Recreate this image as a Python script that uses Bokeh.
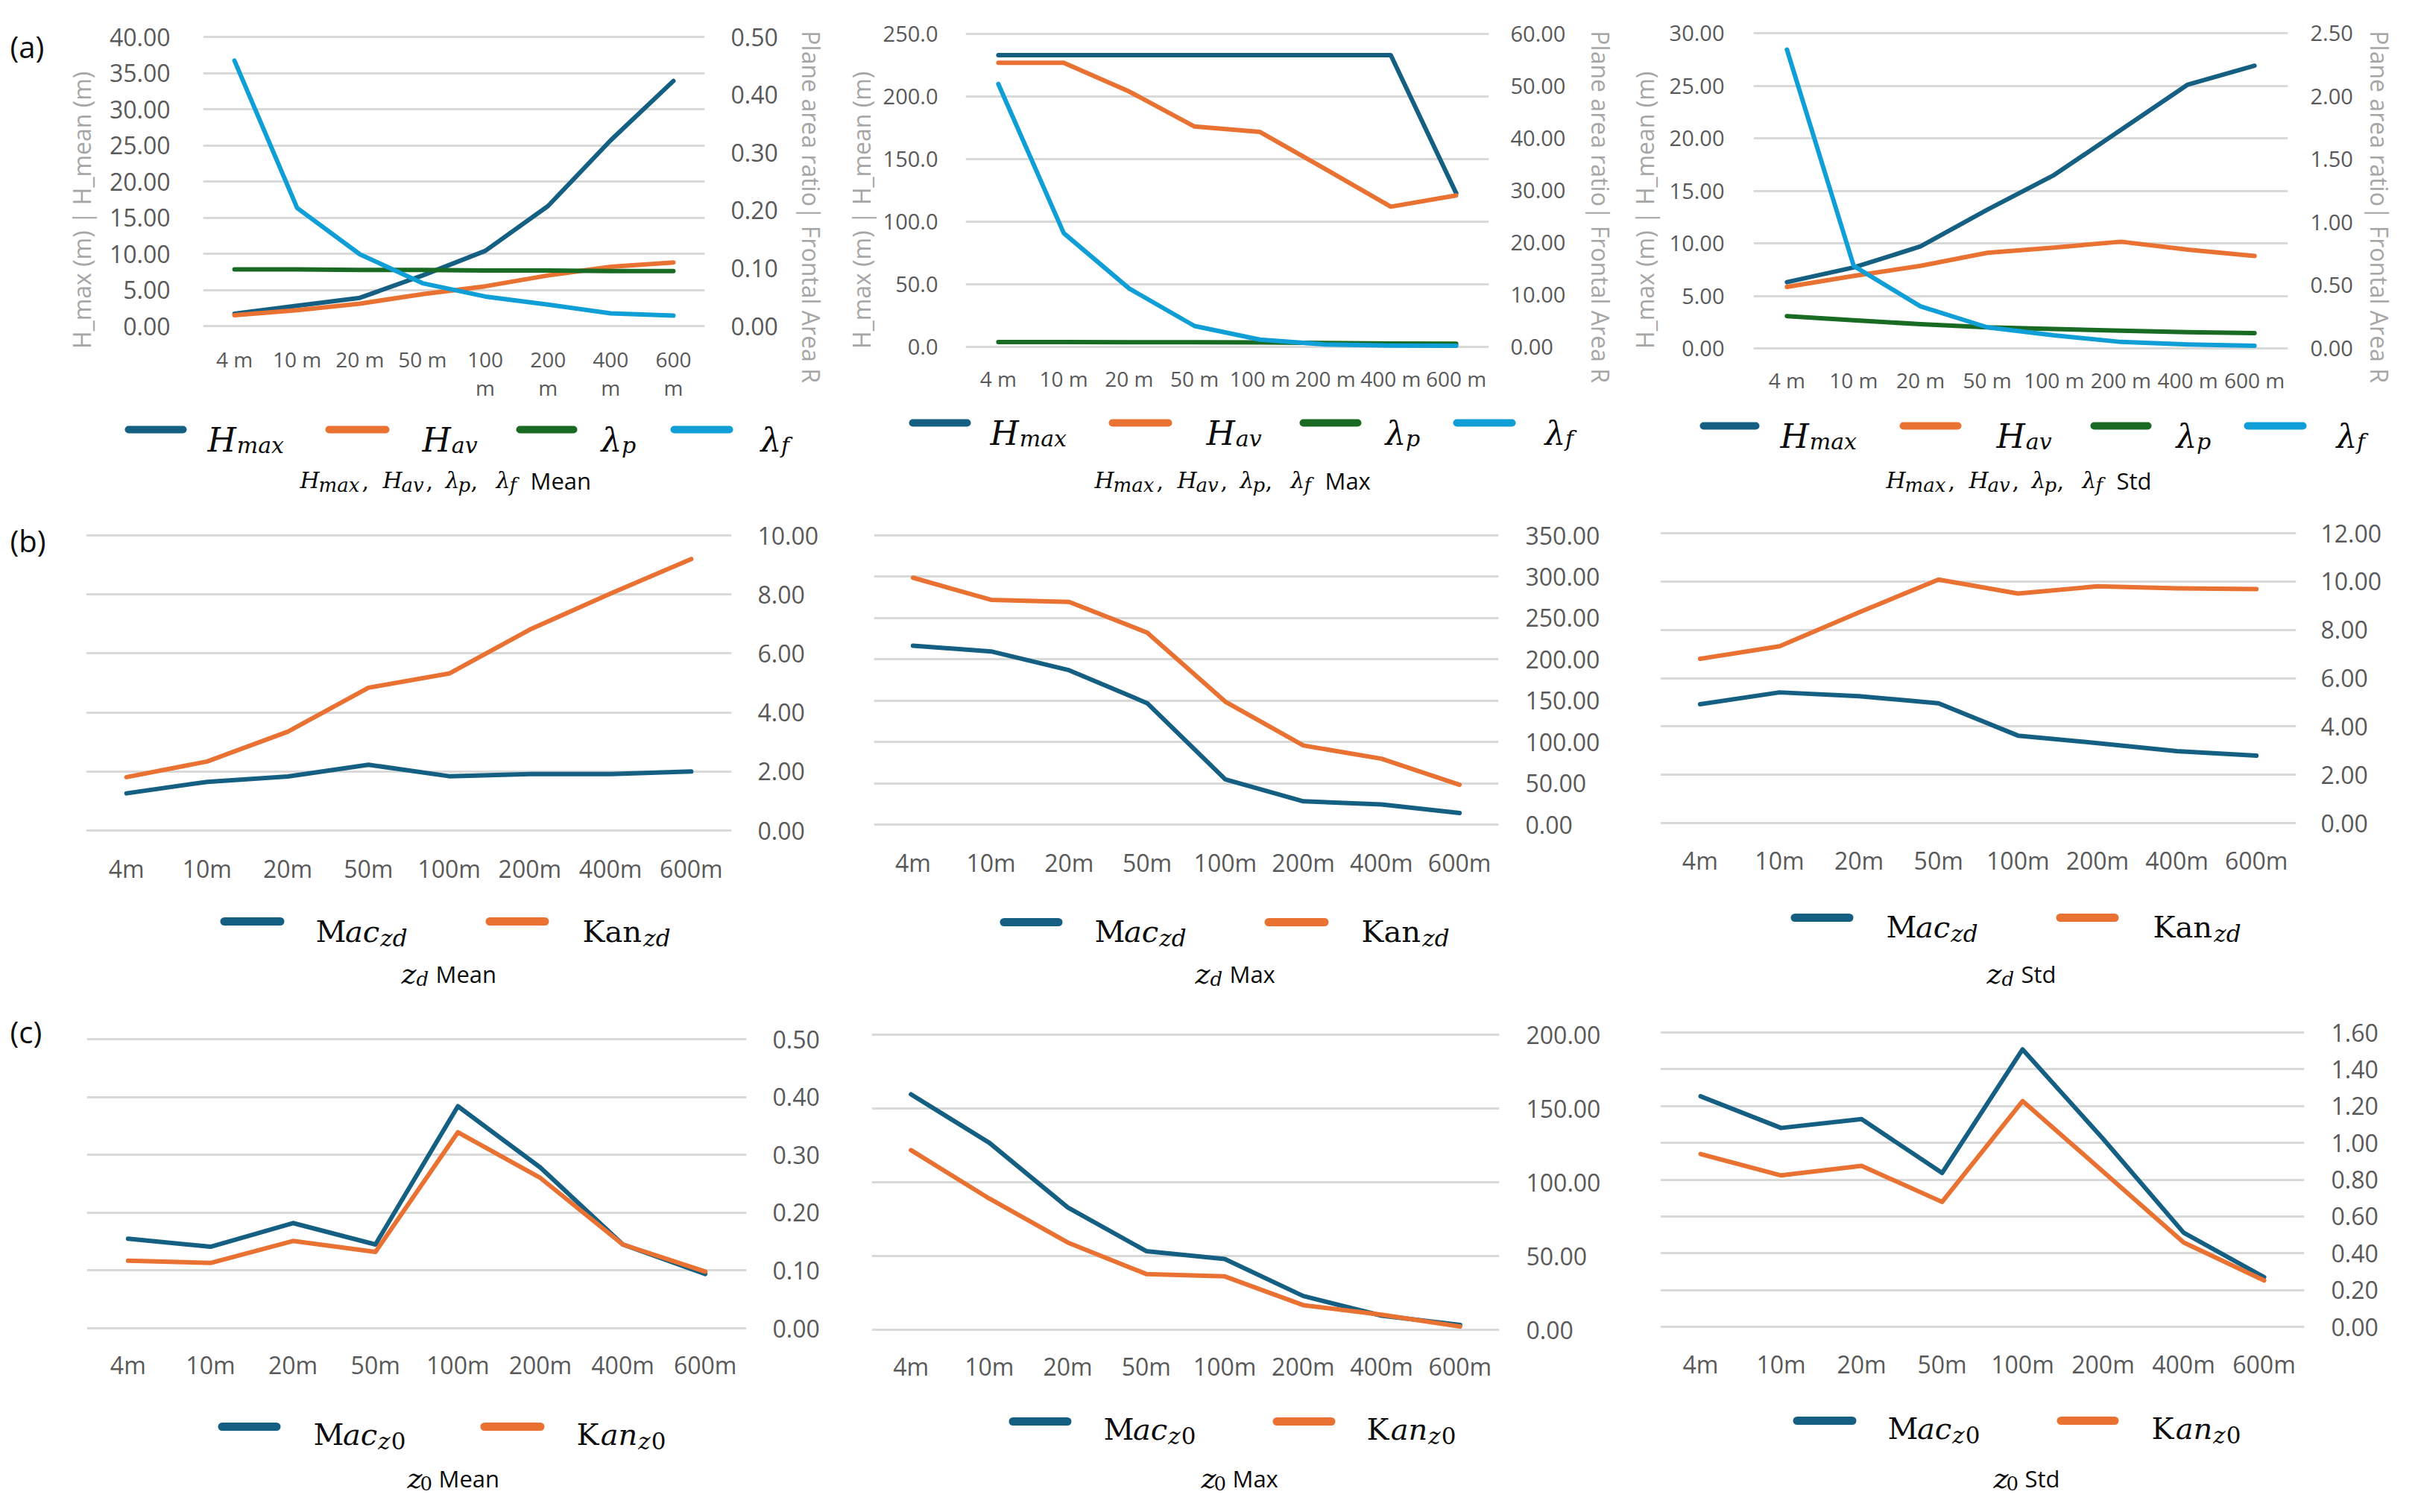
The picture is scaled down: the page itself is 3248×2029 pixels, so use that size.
import math
from bokeh.plotting import figure
from bokeh.models import FactorRange, Range1d, LinearAxis, FixedTicker, NumeralTickFormatter
from bokeh.layouts import column, row
from bokeh.embed import file_html
from bokeh.resources import INLINE
from bokeh.core.properties import value

# ---------------- data ----------------
CATS_A1 = ["4 m", "10 m", "20 m", "50 m", "100\nm", "200\nm", "400\nm", "600\nm"]
CATS_A = ["4 m", "10 m", "20 m", "50 m", "100 m", "200 m", "400 m", "600 m"]
CATS_BC = ["4m", "10m", "20m", "50m", "100m", "200m", "400m", "600m"]

# (a) Mean
a_mean_hmax = [1.7, 2.8, 3.9, 7.0, 10.4, 16.6, 25.7, 33.9]
a_mean_hav = [1.5, 2.2, 3.1, 4.4, 5.5, 7.0, 8.2, 8.8]
a_mean_lp = [0.098, 0.098, 0.097, 0.097, 0.096, 0.096, 0.095, 0.095]
a_mean_lf = [0.459, 0.204, 0.124, 0.074, 0.051, 0.037, 0.022, 0.018]
# (a) Max
a_max_hmax = [233.0, 233.0, 233.0, 233.0, 233.0, 233.0, 233.0, 122.7]
a_max_hav = [227.0, 227.0, 204.0, 176.0, 171.7, 142.0, 112.0, 121.0]
a_max_lp = [0.93, 0.92, 0.90, 0.88, 0.85, 0.75, 0.65, 0.62]
a_max_lf = [50.4, 21.8, 11.2, 4.0, 1.4, 0.45, 0.25, 0.2]
# (a) Std
a_std_hmax = [6.3, 7.7, 9.7, 13.2, 16.5, 20.8, 25.1, 26.9]
a_std_hav = [5.85, 6.9, 7.85, 9.1, 9.6, 10.15, 9.4, 8.8]
a_std_lp = [0.256, 0.223, 0.192, 0.167, 0.154, 0.141, 0.128, 0.121]
a_std_lf = [2.37, 0.654, 0.333, 0.167, 0.103, 0.051, 0.031, 0.021]

# (b) zero-plane displacement zd
b_mean_mac = [1.26, 1.65, 1.83, 2.23, 1.84, 1.91, 1.91, 2.0]
b_mean_kan = [1.81, 2.34, 3.35, 4.84, 5.32, 6.81, 8.03, 9.2]
b_max_mac = [216.4, 209.6, 186.8, 146.9, 54.7, 28.1, 24.3, 14.0]
b_max_kan = [298.8, 272.0, 269.5, 232.3, 148.8, 95.7, 79.7, 48.2]
b_std_mac = [4.92, 5.41, 5.25, 4.96, 3.62, 3.31, 2.98, 2.79]
b_std_kan = [6.80, 7.32, 8.72, 10.08, 9.50, 9.80, 9.72, 9.69]

# (c) roughness length z0
c_mean_mac = [0.155, 0.141, 0.182, 0.145, 0.384, 0.278, 0.145, 0.094]
c_mean_kan = [0.117, 0.113, 0.151, 0.132, 0.339, 0.260, 0.145, 0.098]
c_max_mac = [159.6, 126.7, 82.9, 53.3, 48.0, 22.9, 9.6, 3.3]
c_max_kan = [121.8, 88.9, 59.1, 37.8, 36.2, 16.7, 10.2, 2.2]
c_std_mac = [1.253, 1.081, 1.129, 0.836, 1.508, 1.022, 0.512, 0.270]
c_std_kan = [0.939, 0.823, 0.875, 0.679, 1.227, 0.844, 0.459, 0.252]

# axis ticks
A_MEAN_L = [0, 5, 10, 15, 20, 25, 30, 35, 40]
A_MEAN_R = [0, 0.1, 0.2, 0.3, 0.4, 0.5]
A_MAX_L = [0, 50, 100, 150, 200, 250]
A_MAX_R = [0, 10, 20, 30, 40, 50, 60]
A_STD_L = [0, 5, 10, 15, 20, 25, 30]
A_STD_R = [0, 0.5, 1.0, 1.5, 2.0, 2.5]
B_MEAN_T = [0, 2, 4, 6, 8, 10]
B_MAX_T = [0, 50, 100, 150, 200, 250, 300, 350]
B_STD_T = [0, 2, 4, 6, 8, 10, 12]
C_MEAN_T = [0, 0.1, 0.2, 0.3, 0.4, 0.5]
C_MAX_T = [0, 50, 100, 150, 200]
C_STD_T = [0, 0.2, 0.4, 0.6, 0.8, 1.0, 1.2, 1.4, 1.6]

LEFT_TITLE = "H_max (m) | H_mean (m)"
RIGHT_TITLE = "Plane area ratio| Frontal Area R"

# ---------------- styles ----------------
C_DARK = "#156082"
C_ORANGE = "#E97132"
C_GREEN = "#196B24"
C_LIGHT = "#0F9ED5"
SANS = "Open Sans"
SERIF = "DejaVu Serif"
TICK_COLOR = "#595959"
AXT_COLOR = "#a6a6a6"
GRID_COLOR = "#d9d9d9"
INK = "#0d0d0d"
NB = "\u00a0"

W_IT = {"H": .87, "m": .95, "a": .60, "x": .58, "v": .57, "p": .64, "f": .35,
        "c": .56, "n": .64, "z": .53, "d": .64, "λ": .60, ",": .32}
W_RG = {"M": .96, "K": .78, "a": .60, "n": .64, "c": .56, "0": .64, ",": .32}


class Pan:
    """pixel <-> data mapping for a figure whose frame spans the whole figure height"""
    def __init__(self, fx, fw, top, h, L, R, T0, Z, ymax, ncat):
        self.fx, self.fw, self.top, self.h = fx, fw, top, h
        self.L, self.R, self.T0, self.Z, self.ymax, self.ncat = L, R, T0, Z, ymax, ncat
        self.k = (Z - T0) / ymax
        self.y0 = -(top + h - Z) / self.k
        self.y1 = ymax + (T0 - top) / self.k

    def X(self, px):
        return (px - self.L) / (self.R - self.L) * self.ncat

    def Y(self, py):
        return self.ymax - (py - self.T0) / self.k


class Ident:
    def X(self, px):
        return px

    def Y(self, py):
        return py


def style_axis(ax, px, standoff):
    ax.axis_line_color = None
    ax.major_tick_line_color = None
    ax.minor_tick_line_color = None
    ax.major_tick_out = 0
    ax.major_tick_in = 0
    ax.minor_tick_out = 0
    ax.minor_tick_in = 0
    ax.major_label_text_color = TICK_COLOR
    ax.major_label_text_font = SANS
    ax.major_label_text_font_size = f"{px}px"
    ax.major_label_standoff = standoff


def axis_title(ax, text, standoff):
    ax.axis_label = text
    ax.axis_label_text_font = SANS
    ax.axis_label_text_font_size = "32px"
    ax.axis_label_text_font_style = "normal"
    ax.axis_label_text_color = AXT_COLOR
    ax.axis_label_standoff = standoff


def new_fig(pan, cats, yticks, yloc, ypx, ystand, xpx, xstand):
    p = figure(width=pan.fw, height=pan.h, x_range=FactorRange(factors=cats),
               y_range=Range1d(pan.y0, pan.y1), y_axis_location=yloc,
               output_backend="svg", toolbar_location=None, tools="",
               min_border=0, min_border_top=0, min_border_bottom=0,
               min_border_left=pan.L - pan.fx, min_border_right=pan.fx + pan.fw - pan.R)
    p.outline_line_color = None
    p.border_fill_color = "white"
    p.background_fill_color = "white"
    p.xgrid.grid_line_color = None
    tk = FixedTicker(ticks=yticks)
    p.yaxis[0].ticker = tk
    p.ygrid.ticker = tk
    p.ygrid.grid_line_color = GRID_COLOR
    p.ygrid.grid_line_width = 3
    p.yaxis[0].formatter = NumeralTickFormatter(format="0.00")
    style_axis(p.yaxis[0], ypx, ystand)
    style_axis(p.xaxis[0], xpx, xstand)
    p.xaxis[0].fixed_location = 0
    return p


def add_right(p, pan, rmax, ticks, px, standoff):
    f = rmax / pan.ymax
    p.extra_y_ranges = {"r": Range1d(pan.y0 * f, pan.y1 * f)}
    ax = LinearAxis(y_range_name="r", ticker=FixedTicker(ticks=ticks),
                    formatter=NumeralTickFormatter(format="0.00"))
    style_axis(ax, px, standoff)
    p.add_layout(ax, "right")
    return ax


def line(p, cats, vals, color, rng=None):
    kw = dict(line_width=6, line_color=color, line_join="round", line_cap="round")
    if rng:
        kw["y_range_name"] = rng
    p.line(x=cats, y=vals, **kw)


def txt(p, pan, X, Y, s, font=SANS, size=30, style="normal", color=INK,
        align="left", baseline="alphabetic"):
    p.text(x=[pan.X(X)], y=[pan.Y(Y)], text=[s], text_font=value(font),
           text_font_size=value(f"{size}px"), text_font_style=value(style),
           text_color=value(color), text_align=value(align),
           text_baseline=value(baseline))


def swatch(p, pan, x0, x1, yc, color, th):
    p.segment(x0=[pan.X(x0 + th / 2)], y0=[pan.Y(yc)], x1=[pan.X(x1 - th / 2)],
              y1=[pan.Y(yc)], line_width=th, line_color=color, line_cap="round")


def segs(p, pan, X, Yb, parts):
    x = X
    for s, style, size, dy in parts:
        txt(p, pan, x, Yb + dy, s, font=SERIF, size=size, style=style)
        tab = W_IT if style == "italic" else W_RG
        x += sum(tab.get(ch, .6) for ch in s) * size + 1


def legend_a(p, pan, items, yc, yb):
    names = [("H", "max", C_DARK), ("H", "av", C_ORANGE), ("λ", "p", C_GREEN), ("λ", "f", C_LIGHT)]
    for (x0, x1, tx), (m, s, c) in zip(items, names):
        swatch(p, pan, x0, x1, yc, c, 10)
        segs(p, pan, tx, yb, [(m, "italic", 44, 0), (s, "italic", 30, 7)])


def legend_bc(p, pan, items, yc, yb, sub):
    (mx0, mx1, mtx), (kx0, kx1, ktx) = items
    swatch(p, pan, mx0, mx1, yc, C_DARK, 11)
    swatch(p, pan, kx0, kx1, yc, C_ORANGE, 11)
    if sub == "zd":
        sp = [("zd", "italic", 31, 9)]
        kan = [("Kan", "normal", 40, 0)]
    else:
        sp = [("z", "italic", 31, 9), ("0", "normal", 31, 9)]
        kan = [("K", "normal", 40, 0), ("an", "italic", 40, 0)]
    segs(p, pan, mtx, yb, [("M", "normal", 40, 0), ("ac", "italic", 40, 0)] + sp)
    segs(p, pan, ktx, yb, kan + sp)


def title_a(p, pan, X, Yb, word):
    pieces = [(0, "H", 30, 0), (25, "max", 26, 6), (83, ",", 30, 0),
              (111, "H", 30, 0), (136, "av", 26, 6), (169, ",", 30, 0),
              (195, "λ", 30, 0), (212, "p", 26, 6), (229, ",", 30, 0),
              (263, "λ", 30, 0), (281, "f", 26, 6)]
    for off, s, sz, dy in pieces:
        txt(p, pan, X + off, Yb + dy, s, font=SERIF, size=sz,
            style="normal" if s == "," else "italic")
    txt(p, pan, X + 309, Yb, word, size=31)


def title_bc(p, pan, X, Yb, sub, word):
    txt(p, pan, X, Yb, "z", font=SERIF, size=38, style="italic")
    if sub == "d":
        txt(p, pan, X + 20, Yb + 7, "d", font=SERIF, size=26, style="italic")
        txt(p, pan, X + 46, Yb, word, size=31)
    else:
        txt(p, pan, X + 17, Yb + 7, "0", font=SERIF, size=26)
        txt(p, pan, X + 42, Yb, word, size=31)


def blank(x, w, top, h):
    p = figure(width=w, height=h, x_range=Range1d(x, x + w), y_range=Range1d(top + h, top),
               x_axis_location=None, y_axis_location=None, min_border=0,
               output_backend="svg", toolbar_location=None, tools="")
    p.outline_line_color = None
    p.grid.grid_line_color = None
    p.border_fill_color = "white"
    p.background_fill_color = "white"
    return p


ID = Ident()

# ---------------- row (a) ----------------
RA_T, RA_H = 8, 546
q0 = blank(8, 76, RA_T, RA_H)
txt(q0, ID, 21, 70, "(a)", size=40, baseline="middle")
strip_a = blank(8, 3232, RA_T + RA_H, 680 - (RA_T + RA_H))

LT = LEFT_TITLE + NB * 2
RT = NB + RIGHT_TITLE

pa1 = Pan(84, 1036, RA_T, RA_H, 280, 954, 57, 445, 40, 8)
p1 = new_fig(pa1, CATS_A1, A_MEAN_L, "left", 32, 44, 28, 25)
p1.xaxis[0].major_label_text_line_height = 1.0
axis_title(p1.yaxis[0], LT, 13)
r1 = add_right(p1, pa1, 0.5, A_MEAN_R, 32, 35)
axis_title(r1, RT, 20)
line(p1, CATS_A1, a_mean_hmax, C_DARK)
line(p1, CATS_A1, a_mean_hav, C_ORANGE)
line(p1, CATS_A1, a_mean_lp, C_GREEN, "r")
line(p1, CATS_A1, a_mean_lf, C_LIGHT, "r")
legend_a(strip_a, ID, [(175, 258, 286), (444, 530, 574), (700, 782, 814), (907, 991, 1028)], 584, 598)
title_a(strip_a, ID, 410, 652, "Mean")

pa2 = Pan(1120, 1060, RA_T, RA_H, 1303, 2005, 53, 473, 250, 8)
p2 = new_fig(pa2, CATS_A, A_MAX_L, "left", 29, 37, 28, 23)
p2.yaxis[0].formatter = NumeralTickFormatter(format="0.0")
axis_title(p2.yaxis[0], LT, 5)
r2 = add_right(p2, pa2, 60, A_MAX_R, 29, 29)
axis_title(r2, RT, 23)
line(p2, CATS_A, a_max_hmax, C_DARK)
line(p2, CATS_A, a_max_hav, C_ORANGE)
line(p2, CATS_A, a_max_lp, C_GREEN, "r")
line(p2, CATS_A, a_max_lf, C_LIGHT, "r")
legend_a(strip_a, ID, [(1227, 1310, 1336), (1495, 1580, 1626), (1751, 1834, 1866), (1957, 2041, 2080)], 575, 589)
title_a(strip_a, ID, 1476, 652, "Max")

pa3 = Pan(2180, 1060, RA_T, RA_H, 2360, 3077, 52, 475, 30, 8)
p3 = new_fig(pa3, CATS_A, A_STD_L, "left", 29, 39, 28, 23)
axis_title(p3.yaxis[0], LT, 9)
r3 = add_right(p3, pa3, 2.5, A_STD_R, 29, 30)
axis_title(r3, RT, 11)
line(p3, CATS_A, a_std_hmax, C_DARK)
line(p3, CATS_A, a_std_hav, C_ORANGE)
line(p3, CATS_A, a_std_lp, C_GREEN, "r")
line(p3, CATS_A, a_std_lf, C_LIGHT, "r")
legend_a(strip_a, ID, [(2288, 2368, 2396), (2556, 2639, 2686), (2812, 2894, 2927), (3018, 3102, 3142)], 579, 593)
title_a(strip_a, ID, 2538, 652, "Std")

# ---------------- row (b) ----------------
RB_T, RB_H = 680, 660
q1 = blank(8, 92, RB_T, RB_H)
txt(q1, ID, 21, 733, "(b)", size=40, baseline="middle")

pb1 = Pan(100, 1035, RB_T, RB_H, 123, 989, 726, 1122, 10, 8)
p4 = new_fig(pb1, CATS_BC, B_MEAN_T, "right", 32, 35, 32, 29)
line(p4, CATS_BC, b_mean_mac, C_DARK)
line(p4, CATS_BC, b_mean_kan, C_ORANGE)
legend_bc(p4, pb1, [(303, 389, 431), (659, 744, 789)], 1244, 1257, "zd")
title_bc(p4, pb1, 546, 1314, "d", "Mean")

pb2 = Pan(1135, 1055, RB_T, RB_H, 1180, 2018, 726, 1114, 350, 8)
p5 = new_fig(pb2, CATS_BC, B_MAX_T, "right", 32, 36, 32, 29)
line(p5, CATS_BC, b_max_mac, C_DARK)
line(p5, CATS_BC, b_max_kan, C_ORANGE)
legend_bc(p5, pb2, [(1349, 1433, 1476), (1704, 1790, 1834)], 1245, 1257, "zd")
title_bc(p5, pb2, 1611, 1314, "d", "Max")

pb3 = Pan(2190, 1050, RB_T, RB_H, 2235, 3088, 723, 1112, 12, 8)
p6 = new_fig(pb3, CATS_BC, B_STD_T, "right", 32, 33, 32, 28)
line(p6, CATS_BC, b_std_mac, C_DARK)
line(p6, CATS_BC, b_std_kan, C_ORANGE)
legend_bc(p6, pb3, [(2410, 2494, 2538), (2766, 2850, 2896)], 1239, 1251, "zd")
title_bc(p6, pb3, 2673, 1314, "d", "Std")

# ---------------- row (c) ----------------
RC_T, RC_H = 1340, 680
q2 = blank(8, 92, RC_T, RC_H)
txt(q2, ID, 21, 1392, "(c)", size=40, baseline="middle")

pc1 = Pan(100, 1035, RC_T, RC_H, 124, 1009, 1402, 1790, 0.5, 8)
p7 = new_fig(pc1, CATS_BC, C_MEAN_T, "right", 32, 35, 32, 27)
line(p7, CATS_BC, c_mean_mac, C_DARK)
line(p7, CATS_BC, c_mean_kan, C_ORANGE)
legend_bc(p7, pc1, [(300, 384, 428), (652, 738, 781)], 1922, 1932, "z0")
title_bc(p7, pc1, 554, 1991, "0", "Mean")

pc2 = Pan(1135, 1055, RC_T, RC_H, 1177, 2019, 1396, 1792, 200, 8)
p8 = new_fig(pc2, CATS_BC, C_MAX_T, "right", 32, 36, 32, 27)
line(p8, CATS_BC, c_max_mac, C_DARK)
line(p8, CATS_BC, c_max_kan, C_ORANGE)
legend_bc(p8, pc2, [(1361, 1445, 1488), (1715, 1799, 1841)], 1915, 1925, "z0")
title_bc(p8, pc2, 1619, 1991, "0", "Max")

pc3 = Pan(2190, 1050, RC_T, RC_H, 2235, 3099, 1393, 1788, 1.6, 8)
p9 = new_fig(pc3, CATS_BC, C_STD_T, "right", 32, 36, 32, 28)
line(p9, CATS_BC, c_std_mac, C_DARK)
line(p9, CATS_BC, c_std_kan, C_ORANGE)
legend_bc(p9, pc3, [(2413, 2498, 2540), (2767, 2850, 2894)], 1914, 1924, "z0")
title_bc(p9, pc3, 2682, 1991, "0", "Std")

layout = column(row(q0, p1, p2, p3), strip_a, row(q1, p4, p5, p6), row(q2, p7, p8, p9))
open("out.html", "w").write(file_html(layout, INLINE))
